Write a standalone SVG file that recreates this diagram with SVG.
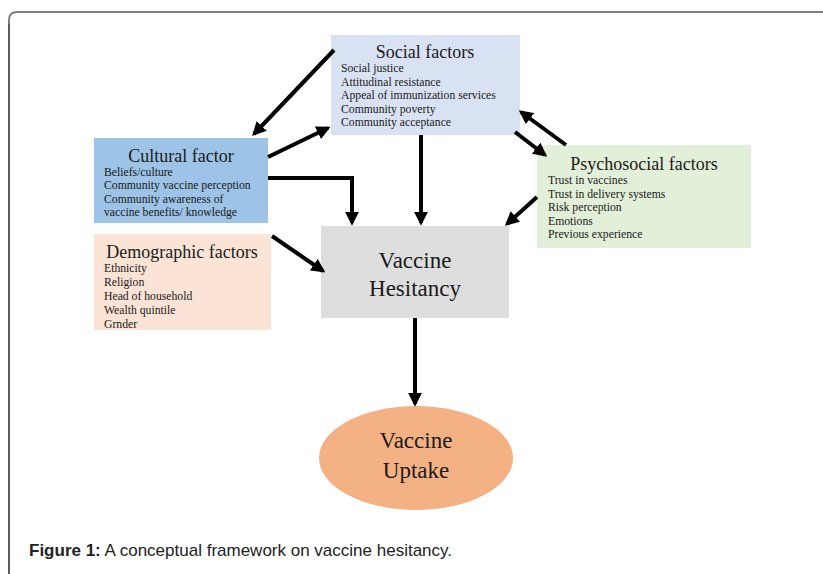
<svg xmlns="http://www.w3.org/2000/svg" width="823" height="574" viewBox="0 0 823 574">
<style>
.title{font-family:"Liberation Serif",serif;font-size:18px;fill:#1a1a1a;text-anchor:middle}
.item{font-family:"Liberation Serif",serif;font-size:11.7px;fill:#1a1a1a}
.big{font-family:"Liberation Serif",serif;font-size:23px;fill:#1a1a1a;text-anchor:middle}
.conn{stroke:#000;stroke-width:4;fill:none;marker-end:url(#ah)}
.cap{font-family:"Liberation Sans",sans-serif;font-size:17px;fill:#222}
</style>
<defs>
<marker id="ah" viewBox="0 0 10 10" refX="8" refY="5" markerUnits="userSpaceOnUse" markerWidth="14" markerHeight="14" orient="auto">
<path d="M0,0 L10,5 L0,10 z" fill="#000"/>
</marker>
<clipPath id="demoClip"><rect x="94" y="234" width="177" height="96"/></clipPath>
</defs>
<rect width="823" height="574" fill="#fff"/>
<path d="M9,574 V20 Q9,12 17,12 H823" fill="none" stroke="#7f7f7f" stroke-width="2"/>
<path d="M9,574 V24" fill="none" stroke="#555" stroke-width="1.5"/>

<g id="social">
<rect x="331" y="35" width="189" height="100" fill="#d9e2f2"/>
<text class="title" x="425" y="58">Social factors</text>
<text class="item" x="341" y="72">Social justice</text>
<text class="item" x="341" y="86">Attitudinal resistance</text>
<text class="item" x="341" y="99">Appeal of immunization services</text>
<text class="item" x="341" y="113">Community poverty</text>
<text class="item" x="341" y="126">Community acceptance</text>
</g>
<g id="cultural">
<rect x="94" y="138" width="174" height="85" fill="#9dc3e6"/>
<text class="title" x="181" y="162">Cultural factor</text>
<text class="item" x="104" y="176">Beliefs/culture</text>
<text class="item" x="104" y="189">Community vaccine perception</text>
<text class="item" x="104" y="203">Community awareness of</text>
<text class="item" x="104" y="216">vaccine benefits/ knowledge</text>
</g>
<g id="demographic">
<rect x="94" y="234" width="177" height="96" fill="#fbe4d5"/>
<text class="title" x="182" y="258">Demographic factors</text>
<g clip-path="url(#demoClip)">
<text class="item" x="104" y="272">Ethnicity</text>
<text class="item" x="104" y="286">Religion</text>
<text class="item" x="104" y="300">Head of household</text>
<text class="item" x="104" y="314">Wealth quintile</text>
<text class="item" x="104" y="328">Grnder</text>
</g>
</g>
<g id="psychosocial">
<rect x="537" y="145" width="214" height="103" fill="#e2efd9"/>
<text class="title" x="644" y="170">Psychosocial factors</text>
<text class="item" x="548" y="184">Trust in vaccines</text>
<text class="item" x="548" y="198">Trust in delivery systems</text>
<text class="item" x="548" y="211">Risk perception</text>
<text class="item" x="548" y="225">Emotions</text>
<text class="item" x="548" y="238">Previous experience</text>
</g>
<g id="hesitancy">
<rect x="321" y="226" width="188" height="92" fill="#dedede"/>
<text class="big" x="415" y="268">Vaccine</text>
<text class="big" x="415" y="296">Hesitancy</text>
</g>
<g id="uptake">
<ellipse cx="416" cy="458" rx="97" ry="52" fill="#f4b183"/>
<text class="big" x="416" y="448">Vaccine</text>
<text class="big" x="416" y="478">Uptake</text>
</g>

<g id="connectors">
<path class="conn" d="M334,50 L254,134"/>
<path class="conn" d="M268,157 L328,128"/>
<path class="conn" d="M268,178 H352 V223"/>
<path class="conn" d="M421,135 V223"/>
<path class="conn" d="M272,236 L323,271"/>
<path class="conn" d="M566,145 L521,112"/>
<path class="conn" d="M515,132 L545,155"/>
<path class="conn" d="M537,197 L507,224"/>
<path class="conn" d="M415,318 V404"/>
</g>

<text class="cap" x="29" y="556"><tspan font-weight="bold">Figure 1:</tspan> A conceptual framework on vaccine hesitancy.</text>
</svg>
